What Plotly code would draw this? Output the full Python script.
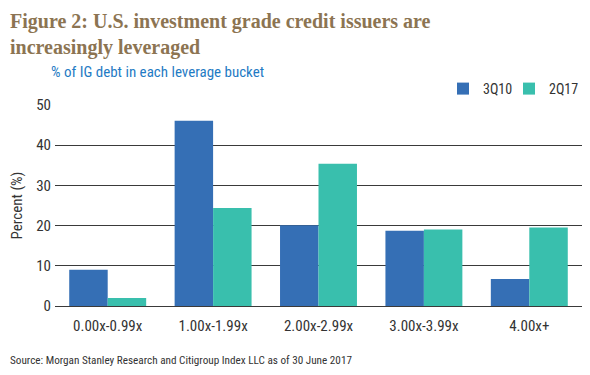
import plotly.graph_objects as go

categories = ["0.00x-0.99x", "1.00x-1.99x", "2.00x-2.99x", "3.00x-3.99x", "4.00x+"]
series_3q10 = [9.0, 46.1, 20.1, 18.7, 6.7]
series_2q17 = [2.0, 24.4, 35.4, 19.0, 19.5]
y_ticks = [0, 10, 20, 30, 40, 50]

BLUE = "#356fb5"
TEAL = "#39bfad"
AX_FONT = "Liberation Sans Narrow, Roboto Condensed, Roboto, sans-serif"

L, R, T, B = 47, 8, 97, 69
W, H = 582, 367
PW = W - L - R

fig = go.Figure()
fig.add_trace(go.Bar(name="3Q10", x=categories, y=series_3q10, marker_color=BLUE,
                     marker_line_width=0, legend="legend"))
fig.add_trace(go.Bar(name="2Q17", x=categories, y=series_2q17, marker_color=TEAL,
                     marker_line_width=0, legend="legend2"))

leg_common = dict(orientation="h", yanchor="bottom", y=1.0,
                  font=dict(family=AX_FONT, size=14, color="#333333"),
                  itemwidth=30, bgcolor="rgba(0,0,0,0)")

fig.update_layout(
    width=W, height=H,
    paper_bgcolor="white", plot_bgcolor="white",
    barmode="group", bargap=0.27, bargroupgap=0,
    margin=dict(l=L, r=R, t=T, b=B, autoexpand=False),
    showlegend=True,
    legend=dict(x=(435 - L) / PW, xanchor="left", **leg_common),
    legend2=dict(x=(576 - L) / PW, xanchor="right", **leg_common),
    xaxis=dict(showgrid=False, showline=False, ticks="outside", ticklen=6,
               tickcolor="rgba(0,0,0,0)",
               tickfont=dict(family=AX_FONT, size=15, color="#333333")),
    yaxis=dict(range=[0, 50], tickvals=y_ticks, showgrid=True, gridcolor="#3a3a3a",
               gridwidth=1.3, zeroline=True, zerolinecolor="#3a3a3a", zerolinewidth=1.3,
               ticks="outside", ticklen=0,
               tickfont=dict(family=AX_FONT, size=15, color="#333333"),
               title=dict(text="Percent (%)", standoff=10,
                          font=dict(family=AX_FONT, size=15, color="#333333"))),
    annotations=[
        dict(text="<b>Figure 2: U.S. investment grade credit issuers are<br>increasingly leveraged</b>",
             xref="paper", yref="paper", x=-L / PW, y=1, yshift=T,
             showarrow=False, xanchor="left", yanchor="top", align="left",
             font=dict(family="Liberation Serif, DejaVu Serif, serif", size=20, color="#8c7452")),
        dict(text="% of IG debt in each leverage bucket",
             xref="paper", yref="paper", x=0, y=1, yshift=33,
             showarrow=False, xanchor="left", yanchor="middle", xshift=-6,
             font=dict(family=AX_FONT, size=15, color="#1f7bc4")),
        dict(text="Source: Morgan Stanley Research and Citigroup Index LLC as of 30 June 2017",
             xref="paper", yref="paper", x=-L / PW, y=0, yshift=-54,
             showarrow=False, xanchor="left", yanchor="middle",
             font=dict(family=AX_FONT, size=11.2, color="#333333")),
    ],
)

fig.write_html("out.html")
